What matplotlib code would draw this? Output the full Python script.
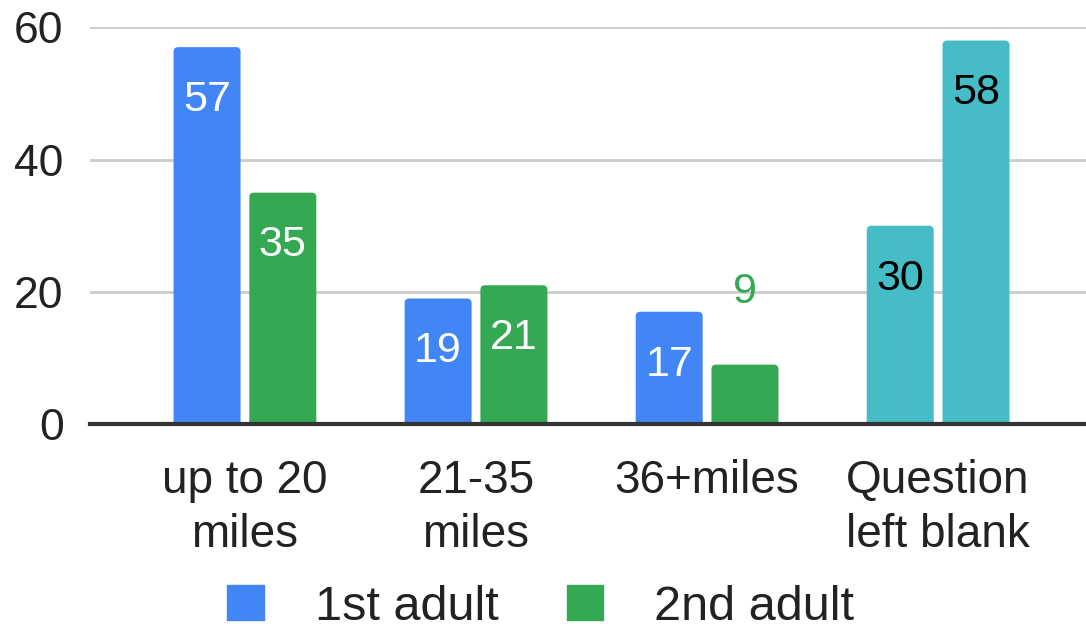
import numpy as np
import matplotlib.pyplot as plt
from matplotlib.patches import FancyBboxPatch

categories = ['up to 20\nmiles', '21-35\nmiles', '36+miles', 'Question\nleft blank']
first_adult = [57, 19, 17, 30]
second_adult = [35, 21, 9, 58]

blue = '#4285F4'
green = '#34A853'
teal = '#46BDC6'

plt.rcParams['font.family'] = ['Liberation Sans', 'DejaVu Sans']

fig = plt.figure(figsize=(10.86, 6.35), dpi=100)
ax = fig.add_axes([0.083, 0.332, 0.917, 0.625])

x = np.arange(len(categories))
w = 0.29
off = 0.164

ax.set_ylim(0, 60)
ax.set_xlim(-0.67, 3.64)

c1 = [blue, blue, blue, teal]
c2 = [green, green, green, teal]
b1 = ax.bar(x - off, first_adult, w, color=c1, zorder=3)
b2 = ax.bar(x + off, second_adult, w, color=c2, zorder=3)

# swap the plain rectangles for slightly rounded ones (bottom goes below 0, clipped)
bbox = ax.get_window_extent()
aspect = (bbox.width / 4.31) / (bbox.height / 60)
for bars in (b1, b2):
    for r in bars:
        x0, wd, h = r.get_x(), r.get_width(), r.get_height()
        p = FancyBboxPatch((x0, -2), wd, h + 2, boxstyle='round,pad=0,rounding_size=0.02',
                           mutation_aspect=aspect, fc=r.get_facecolor(), ec='none', zorder=3)
        ax.add_patch(p)
        r.set_visible(False)

# value labels
for bars, vals, cols in [(b1, first_adult, c1), (b2, second_adult, c2)]:
    for b, v, c in zip(bars, vals, cols):
        xc = b.get_x() + b.get_width() / 2
        txt_col = 'black' if c == teal else 'white'
        if v < 12:
            ax.annotate(str(v), (xc, v), xytext=(0, 52), textcoords='offset points',
                        ha='center', va='center', fontsize=31, color=c, zorder=4)
        else:
            ax.annotate(str(v), (xc, v), xytext=(0, -38), textcoords='offset points',
                        ha='center', va='center', fontsize=31, color=txt_col, zorder=4)

ax.set_yticks([0, 20, 40, 60])
ax.set_xticks(x)
ax.set_xticklabels(categories, fontsize=33, color='#222222', linespacing=1.3)
ax.tick_params(axis='y', labelsize=32, labelcolor='#222222', length=0, pad=19)
ax.tick_params(axis='x', length=0, pad=25)

ax.yaxis.grid(True, color='#cccccc', linewidth=2, zorder=0)
for s in ['top', 'right', 'left']:
    ax.spines[s].set_visible(False)
ax.spines['bottom'].set_color('#333333')
ax.spines['bottom'].set_linewidth(3)
ax.spines['bottom'].set_zorder(5)

h1 = plt.Rectangle((0, 0), 1, 1, color=blue)
h2 = plt.Rectangle((0, 0), 1, 1, color=green)
fig.legend([h1, h2], ['1st adult', '2nd adult'], loc='center', bbox_to_anchor=(0.498, 0.044),
           ncol=2, frameon=False, fontsize=35, handlelength=0.75, handleheight=0.75,
           handletextpad=1.05, columnspacing=1.4, labelcolor='#222222')

fig.savefig('out.png', dpi=100)
